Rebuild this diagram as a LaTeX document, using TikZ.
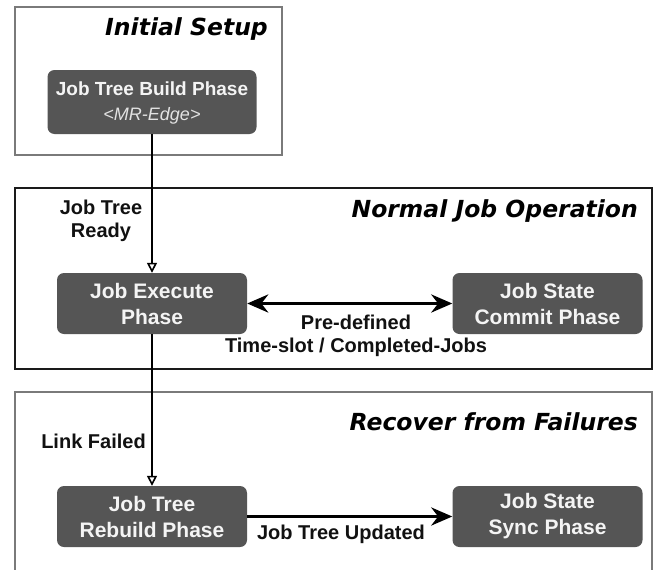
\documentclass[tikz,border=0pt]{standalone}
\usepackage{fontspec}
\setmainfont{Liberation Sans}
\newfontfamily\titlefont{DejaVu Sans}
\usetikzlibrary{arrows.meta}
\definecolor{phasefill}{HTML}{555555}
\definecolor{phasetext}{HTML}{F4F4F4}
\definecolor{subtext}{HTML}{E2E2E2}
\definecolor{framegray}{HTML}{7A7A7A}
\definecolor{frameblack}{HTML}{1A1A1A}
\definecolor{labeltext}{HTML}{111111}
\begin{document}
\begin{tikzpicture}[x=1pt,y=-1pt,
  phase/.style={draw=none, fill=phasefill, rounded corners=7pt, text=phasetext,
    font=\bfseries\fontsize{21}{26}\selectfont, align=center, inner sep=0pt,
    minimum width=190pt, minimum height=61pt},
  frame/.style={line width=2pt},
  title/.style={font=\titlefont\bfseries\itshape\fontsize{23.5}{28}\selectfont,
    anchor=base east, inner sep=0pt, text=black},
  lbl/.style={font=\bfseries\fontsize{20}{23}\selectfont, align=center, text=labeltext, inner sep=0pt},
  flow/.style={line width=2pt, -{Triangle[open,length=10pt,width=10pt,line width=1.6pt]}},
  bigtip/.tip={Stealth[length=21pt,width=18pt]},
  heavy/.style={line width=3.5pt}]
\clip (0,0) rectangle (656,570);
\fill[white] (0,0) rectangle (656,570);
% frames
\draw[frame, draw=framegray] (15,7) rectangle (282,155);
\draw[frame, draw=frameblack] (15,188) rectangle (652,369);
\draw[frame, draw=framegray] (15,392) rectangle (652,620);
% titles
\node[title] (t1) at (268,35.5) {Initial Setup};
\node[title] (t2) at (638,217.5) {Normal Job Operation};
\node[title] (t3) at (638,430.5) {Recover from Failures};
% phases
\node[phase, minimum width=209pt, minimum height=64pt,
  font=\bfseries\fontsize{19}{25}\selectfont] (build) at (152,102)
  {\rule{0pt}{16pt}Job Tree Build Phase\\{\mdseries\itshape\fontsize{18}{22}\selectfont\color{subtext}<MR-Edge>}};
\node[phase] (exe) at (152,303.5) {Job Execute\\Phase};
\node[phase] (com) at (547.5,303.5) {Job State\\Commit Phase};
\node[phase] (reb) at (152,516.5) {Job Tree\\Rebuild Phase};
\node[phase] (syn) at (547.5,516.5) {Job State\\Sync Phase};
% labels
\node[lbl] (ready) at (101,221) {Job Tree\\Ready};
\node[lbl] (failed) at (93.5,441) {Link Failed};
\node[lbl] (pre) at (356,336) {Pre-defined\\Time-slot / Completed-Jobs};
\node[lbl] (upd) at (341,534) {Job Tree Updated};
% connectors
\draw[flow] (build.south) -- (exe.north);
\draw[flow] (exe.south) -- (reb.north);
\draw[heavy, bigtip-bigtip] (exe.east) -- (com.west);
\draw[heavy, -bigtip] (reb.east) -- (syn.west);
\end{tikzpicture}
\end{document}
